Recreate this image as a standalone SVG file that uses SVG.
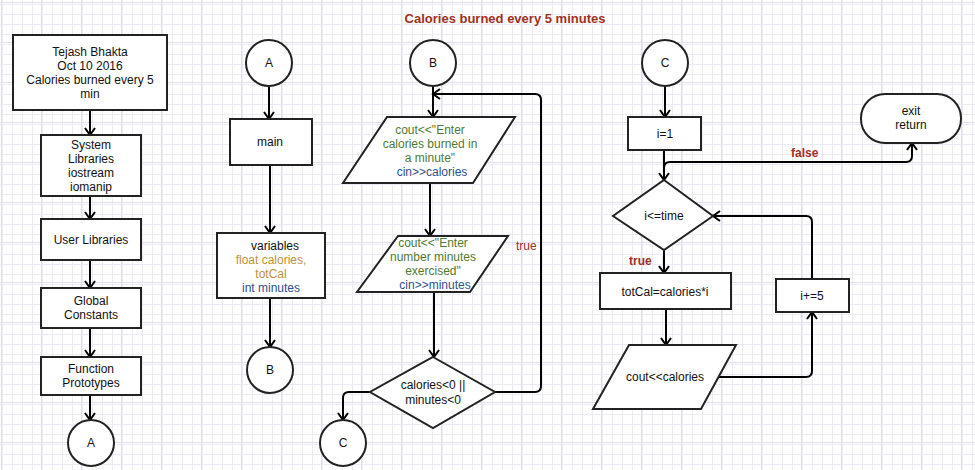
<svg xmlns="http://www.w3.org/2000/svg" width="975" height="470" viewBox="0 0 975 470">
<defs>
<pattern id="minor" width="10" height="10" patternUnits="userSpaceOnUse" x="1" y="2">
<path d="M0,0.5 H10 M0.5,0 V10" fill="none" stroke="#ebebf3" stroke-width="1"/>
</pattern>
<pattern id="major" width="40" height="40" patternUnits="userSpaceOnUse" x="1" y="2">
<rect width="40" height="40" fill="url(#minor)"/>
<path d="M0,0.5 H40 M0.5,0 V40" fill="none" stroke="#e0e0ec" stroke-width="1"/>
</pattern>
<marker id="arr" markerWidth="14" markerHeight="14" refX="11" refY="7" orient="auto" markerUnits="userSpaceOnUse">
<path d="M4,2 L11,7 L4,12" fill="none" stroke="#000" stroke-width="2"/>
</marker>
<style>
.shape{fill:#fff;stroke:#222;stroke-width:2}
.t{font-family:"Liberation Sans",Arial,sans-serif;font-size:12px;fill:#111;text-anchor:middle}
.g{fill:#4f7a33}
.b{fill:#2f4f8f}
.y{fill:#c0903a}
.lbl{font-family:"Liberation Sans",Arial,sans-serif;font-size:12px;fill:#a0301e}
.bold{font-weight:bold}
.edge{fill:none;stroke:#000;stroke-width:2;marker-end:url(#arr)}
</style>
</defs>
<rect width="975" height="470" fill="#fff"/>
<rect width="975" height="470" fill="url(#major)"/>

<text x="505" y="23" class="lbl bold" style="font-size:13px" text-anchor="middle">Calories burned every 5 minutes</text>

<g id="edges">
<path class="edge" d="M90,110 V135"/>
<path class="edge" d="M90,196 V219"/>
<path class="edge" d="M90,260 V288"/>
<path class="edge" d="M90,328 V357"/>
<path class="edge" d="M90,395 V420"/>
<path class="edge" d="M269,86 V119"/>
<path class="edge" d="M270,165 V233"/>
<path class="edge" d="M270,298 V347"/>
<path class="edge" d="M433,86 V117"/>
<path class="edge" d="M430,183 V236"/>
<path class="edge" d="M434,292 V357"/>
<path class="edge" d="M495,392 H535 Q541,392 541,386 V100 Q541,94 535,94 H433"/>
<path class="edge" d="M370,392 H349 Q343,392 343,398 V420"/>
<path class="edge" d="M665,86 V117"/>
<path class="edge" d="M664,150 V180"/>
<path class="edge" d="M664,180 V168 Q664,162 670,162 H906 Q912,162 912,156 V143"/>
<path class="edge" d="M664,250 V273"/>
<path class="edge" d="M666,309 V345"/>
<path class="edge" d="M718,377 H806 Q812,377 812,371 V312"/>
<path class="edge" d="M812,279 V222 Q812,216 806,216 H713"/>
<text x="516" y="250" class="lbl">true</text>
<text x="791" y="157" class="lbl bold">false</text>
<text x="629" y="265" class="lbl bold">true</text>
</g>

<g id="n_title">
<rect class="shape" x="13" y="35" width="154" height="75"/>
<text class="t"><tspan x="90" y="56">Tejash Bhakta</tspan><tspan x="90" y="70">Oct 10 2016</tspan><tspan x="90" y="84">Calories burned every 5</tspan><tspan x="90" y="98">min</tspan></text>
</g>
<g id="n_syslib">
<rect class="shape" x="41" y="135" width="100" height="61"/>
<text class="t"><tspan x="91" y="149">System</tspan><tspan x="91" y="163">Libraries</tspan><tspan x="91" y="177">iostream</tspan><tspan x="91" y="191">iomanip</tspan></text>
</g>
<g id="n_userlib">
<rect class="shape" x="41" y="219" width="100" height="41"/>
<text class="t" x="91" y="244">User Libraries</text>
</g>
<g id="n_global">
<rect class="shape" x="41" y="288" width="100" height="40"/>
<text class="t"><tspan x="91" y="305">Global</tspan><tspan x="91" y="319">Constants</tspan></text>
</g>
<g id="n_proto">
<rect class="shape" x="41" y="357" width="100" height="38"/>
<text class="t"><tspan x="91" y="373">Function</tspan><tspan x="91" y="387">Prototypes</tspan></text>
</g>
<g id="n_A1">
<circle class="shape" cx="91" cy="443" r="23"/>
<text class="t" x="91" y="447">A</text>
</g>

<g id="n_A2">
<circle class="shape" cx="269" cy="63" r="23"/>
<text class="t" x="269" y="67">A</text>
</g>
<g id="n_main">
<rect class="shape" x="230" y="119" width="82" height="46"/>
<text class="t" x="270" y="146">main</text>
</g>
<g id="n_vars">
<rect class="shape" x="217" y="233" width="108" height="65"/>
<text class="t"><tspan x="275" y="250">variables</tspan><tspan x="271" y="264" class="y">float calories,</tspan><tspan x="271" y="278" class="y">totCal</tspan><tspan x="271" y="292" class="b">int minutes</tspan></text>
</g>
<g id="n_B1">
<circle class="shape" cx="270" cy="370" r="23"/>
<text class="t" x="270" y="374">B</text>
</g>

<g id="n_B2">
<circle class="shape" cx="433" cy="63" r="23"/>
<text class="t" x="433" y="67">B</text>
</g>
<g id="n_in1">
<polygon class="shape" points="387,117 515,117 473,183 343,183"/>
<text class="t"><tspan x="430" y="134" class="g">cout&lt;&lt;"Enter</tspan><tspan x="430" y="148" class="g">calories burned in</tspan><tspan x="430" y="162" class="g">a minute"</tspan><tspan x="432" y="176" class="b">cin&gt;&gt;calories</tspan></text>
</g>
<g id="n_in2">
<polygon class="shape" points="398,236 508,236 470,292 357,292"/>
<text class="t"><tspan x="433" y="247" class="g">cout&lt;&lt;"Enter</tspan><tspan x="433" y="261" class="g">number minutes</tspan><tspan x="433" y="275" class="g">exercised"</tspan><tspan x="435" y="289" class="b">cin&gt;&gt;minutes</tspan></text>
</g>
<g id="n_check">
<polygon class="shape" points="433,357 495,392 433,428 370,392"/>
<text class="t"><tspan x="433" y="389">calories&lt;0 ||</tspan><tspan x="433" y="404">minutes&lt;0</tspan></text>
</g>
<g id="n_C1">
<circle class="shape" cx="343" cy="443" r="23"/>
<text class="t" x="343" y="447">C</text>
</g>

<g id="n_C2">
<circle class="shape" cx="665" cy="63" r="23"/>
<text class="t" x="665" y="67">C</text>
</g>
<g id="n_i1">
<rect class="shape" x="628" y="117" width="73" height="33"/>
<text class="t" x="665" y="138">i=1</text>
</g>
<g id="n_exit">
<rect class="shape" x="861" y="94" width="100" height="49" rx="24" ry="24"/>
<text class="t"><tspan x="911" y="115">exit</tspan><tspan x="911" y="129">return</tspan></text>
</g>
<g id="n_loop">
<polygon class="shape" points="664,180 713,216 664,250 613,216"/>
<text class="t" x="664" y="220">i&lt;=time</text>
</g>
<g id="n_tot">
<rect class="shape" x="600" y="273" width="131" height="36"/>
<text class="t" x="665" y="296">totCal=calories*i</text>
</g>
<g id="n_out">
<polygon class="shape" points="629,345 736,345 701,409 593,409"/>
<text class="t" x="665" y="381">cout&lt;&lt;calories</text>
</g>
<g id="n_inc">
<rect class="shape" x="776" y="279" width="73" height="33"/>
<text class="t" x="812" y="300">i+=5</text>
</g>
</svg>
